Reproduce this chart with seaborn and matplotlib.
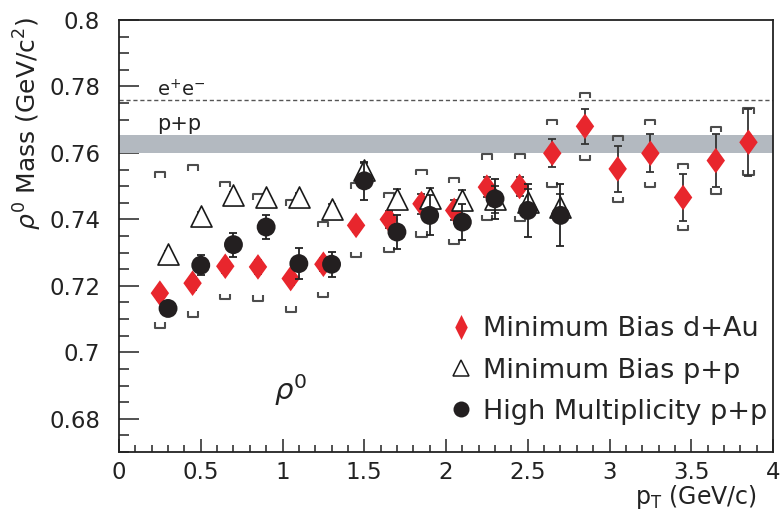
import numpy as np
import pandas as pd
import matplotlib
matplotlib.use("Agg")
import matplotlib.pyplot as plt
import seaborn as sns
from matplotlib.lines import Line2D
from matplotlib.collections import LineCollection
from matplotlib.ticker import MultipleLocator, FuncFormatter

# ---- data -------------------------------------------------------------
# Minimum bias d+Au
pt_dau = [0.25, 0.45, 0.65, 0.85, 1.05, 1.25, 1.45, 1.65, 1.85, 2.05,
          2.25, 2.45, 2.65, 2.85, 3.05, 3.25, 3.45, 3.65, 3.85]
mass_dau = [0.7178, 0.7208, 0.7259, 0.7257, 0.7222, 0.7265, 0.7382, 0.7400,
            0.7447, 0.7427, 0.7497, 0.7499, 0.7599, 0.7680, 0.7552, 0.7599,
            0.7466, 0.7577, 0.7632]
stat_dau = [0.002, 0.002, 0.002, 0.002, 0.002, 0.002, 0.002, 0.0025, 0.003,
            0.003, 0.003, 0.003, 0.0042, 0.0053, 0.007, 0.0057, 0.007, 0.008,
            0.010]
sys_hi_dau = [0.7542, 0.7563, 0.7513, 0.7475, 0.7457, 0.7392, 0.7508, 0.7479,
              0.7550, 0.7526, 0.7596, 0.7598, 0.7699, 0.7780, 0.7651, 0.7699,
              0.7568, 0.7679, 0.7734]
sys_lo_dau = [0.7074, 0.7107, 0.7160, 0.7155, 0.7122, 0.7165, 0.7286, 0.7301,
              0.7348, 0.7326, 0.7397, 0.7395, 0.7497, 0.7579, 0.7452, 0.7497,
              0.7367, 0.7477, 0.7533]

# p+p (minimum bias and high multiplicity share the pT bins)
pt_pp = [0.3, 0.5, 0.7, 0.9, 1.1, 1.3, 1.5, 1.7, 1.9, 2.1, 2.3, 2.5, 2.7]
mass_mb_pp = [0.7295, 0.7411, 0.7473, 0.7466, 0.7468, 0.7431, 0.7549, 0.7462,
              0.7463, 0.7458, 0.7460, 0.7451, 0.7436]
stat_mb_pp = [0.001, 0.001, 0.001, 0.001, 0.0012, 0.0015, 0.002, 0.003,
              0.003, 0.003, 0.004, 0.004, 0.004]
mass_hm_pp = [0.7132, 0.7262, 0.7324, 0.7377, 0.7267, 0.7265, 0.7516, 0.7362,
              0.7412, 0.7392, 0.7462, 0.7427, 0.7412]
stat_hm_pp = [0.002, 0.003, 0.0036, 0.0037, 0.0046, 0.0038, 0.0058, 0.005,
              0.006, 0.0055, 0.006, 0.008, 0.0093]

# reference masses
ee_mass = 0.776
pp_band = (0.7600, 0.7653)

series_labels = ["Minimum Bias d+Au", "Minimum Bias p+p", "High Multiplicity p+p"]
x_ticks = [0, 0.5, 1, 1.5, 2, 2.5, 3, 3.5, 4]
y_ticks = [0.68, 0.70, 0.72, 0.74, 0.76, 0.78, 0.80]

# ---- style ------------------------------------------------------------
sns.set_style("white")
plt.rcParams["font.family"] = ["DejaVu Sans"]
plt.rcParams["mathtext.fontset"] = "dejavusans"

RED = "#e8262d"
DARK = "#231f20"
INK = "#222222"

dau = pd.DataFrame({"pt": pt_dau, "mass": mass_dau})
pp = pd.DataFrame({"pt": pt_pp, "mb": mass_mb_pp, "hm": mass_hm_pp})

fig = plt.figure(figsize=(7.8, 5.18), dpi=100)
ax = fig.add_axes([119 / 780, 1 - 452 / 518, (773 - 119) / 780, (452 - 20) / 518])

ax.set_xlim(0, 4)
ax.set_ylim(0.67, 0.80)

# reference lines
ax.axhspan(*pp_band, color="#b3b9c0", lw=0, zorder=1)
ax.axhline(ee_mass, color="#555555", lw=1.0, ls=(0, (3, 2)), zorder=1.5)

# systematic brackets for d+Au
w, t = 0.031, 0.0016
segs = []
for x, lo, hi in zip(pt_dau, sys_lo_dau, sys_hi_dau):
    segs.append([(x - w, hi - t), (x - w, hi), (x + w, hi), (x + w, hi - t)])
    segs.append([(x - w, lo + t), (x - w, lo), (x + w, lo), (x + w, lo + t)])
ax.add_collection(LineCollection(segs, colors="#4d4d4d", linewidths=1.5, zorder=2))

# statistical error bars
ax.errorbar(pt_dau, mass_dau, yerr=stat_dau, fmt="none", ecolor="#333333",
            elinewidth=1.3, capsize=2.6, capthick=1.3, zorder=2.5)
ax.errorbar(pt_pp, mass_mb_pp, yerr=stat_mb_pp, fmt="none", ecolor=INK,
            elinewidth=1.2, capsize=2.6, capthick=1.2, zorder=3.3)
ax.errorbar(pt_pp, mass_hm_pp, yerr=stat_hm_pp, fmt="none", ecolor=INK,
            elinewidth=1.3, capsize=2.6, capthick=1.3, zorder=3.8)

diamond = [(0, 1), (0.72, 0), (0, -1), (-0.72, 0)]
sns.scatterplot(data=dau, x="pt", y="mass", marker=diamond, s=340, color=RED,
                edgecolor="none", linewidth=0, zorder=3, ax=ax, legend=False)
sns.scatterplot(data=pp, x="pt", y="mb", marker="^", s=230, facecolor="white",
                edgecolor="#1a1a1a", linewidth=1.2, zorder=3.5, ax=ax, legend=False)
sns.scatterplot(data=pp, x="pt", y="hm", marker="o", s=185, color=DARK,
                edgecolor="none", linewidth=0, zorder=4, ax=ax, legend=False)

# annotations
ax.text(0.233, 0.7770, r"e$^{+}$e$^{-}$", fontsize=14, va="baseline", color=INK)
ax.text(0.233, 0.7668, "p+p", fontsize=15, va="baseline", color=INK)
ax.text(0.95, 0.6857, r"$\rho^{0}$", fontsize=21, va="baseline", color=INK)

# legend
handles = [
    Line2D([], [], ls="none", marker=[(0, 1), (0.5, 0), (0, -1), (-0.5, 0)],
           markersize=18, color=RED, markeredgewidth=0),
    Line2D([], [], ls="none", marker="^", markersize=11, markerfacecolor="none",
           markeredgecolor="#1a1a1a", markeredgewidth=1.1),
    Line2D([], [], ls="none", marker="o", markersize=11.5, color=DARK,
           markeredgewidth=0),
]
ax.legend(handles, series_labels, loc="upper left", bbox_to_anchor=(0.502, 0.314),
          frameon=False, fontsize=19.5, handlelength=1.0, handletextpad=0.3,
          labelspacing=0.56, borderpad=0, borderaxespad=0)

# axes, ticks, labels
ax.set_xticks(x_ticks)
ax.set_yticks(y_ticks)
ax.xaxis.set_minor_locator(MultipleLocator(0.1))
ax.yaxis.set_minor_locator(MultipleLocator(0.005))
fmt = FuncFormatter(lambda v, p: f"{v:g}")
ax.xaxis.set_major_formatter(fmt)
ax.yaxis.set_major_formatter(fmt)

ax.tick_params(which="both", left=True, bottom=True, top=False, right=False,
               direction="in", width=1.1, colors=INK)
ax.tick_params(axis="y", which="major", length=14.4, labelsize=16.5, pad=13.5)
ax.tick_params(axis="y", which="minor", length=7.2)
ax.tick_params(axis="x", which="major", length=9.4, labelsize=16.5, pad=6.5)
ax.tick_params(axis="x", which="minor", length=4.7)

for s in ax.spines.values():
    s.set_linewidth(1.3)
    s.set_color(INK)

ax.set_xlabel(r"p$_{\mathrm{T}}$ (GeV/c)", fontsize=17, ha="right", va="center",
              color=INK)
ax.xaxis.set_label_coords(0.9755, -0.104)
ax.set_ylabel(r"$\rho^{0}$ Mass (GeV/c$^{2}$)", fontsize=18, ha="right",
              va="center", color=INK)
ax.yaxis.set_label_coords(-0.14, 1.007)

fig.savefig("out.png", dpi=100)
